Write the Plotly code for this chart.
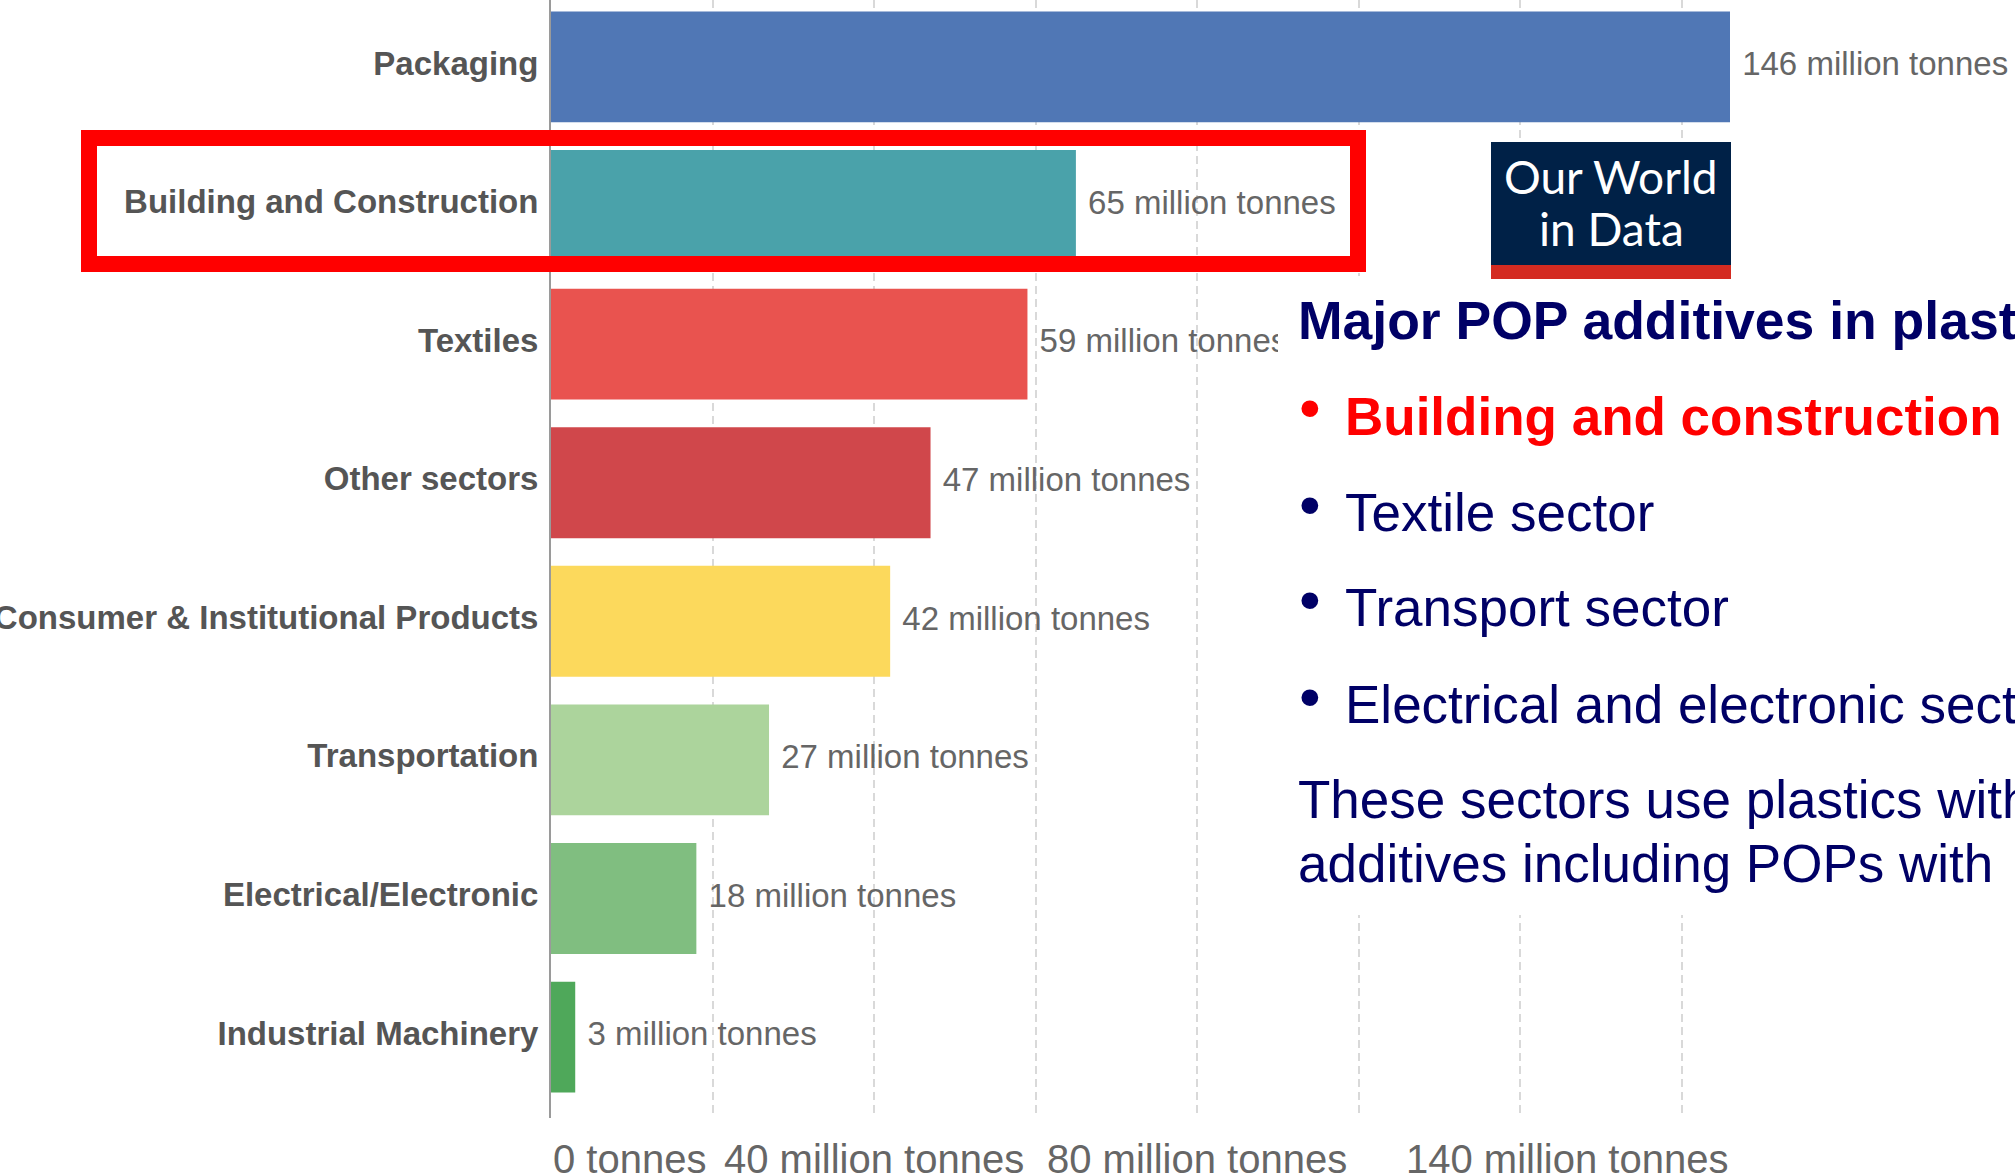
import plotly.graph_objects as go

# Plastic production by industrial sector (million tonnes)
sectors = [
    "Packaging",
    "Building and Construction",
    "Textiles",
    "Other sectors",
    "Consumer & Institutional Products",
    "Transportation",
    "Electrical/Electronic",
    "Industrial Machinery",
]
production_mt = [146, 65, 59, 47, 42, 27, 18, 3]
bar_colors = ["#5077B5", "#4AA2AA", "#E9534F", "#D0474B",
              "#FCD95C", "#ACD49C", "#80BE80", "#4FA85A"]

grid_vals = [20, 40, 60, 80, 100, 120, 140]
axis_tick_vals = [0, 40, 80, 140]
axis_tick_text = ["0 tonnes", "40 million tonnes", "80 million tonnes", "140 million tonnes"]

heading = "Major POP additives in plastics"
bullet_items = ["Building and construction sector", "Textile sector",
                "Transport sector", "Electrical and electronic sector"]
closing_lines = ["These sectors use plastics with", "additives including POPs with"]

# page geometry (pixels)
FIG_W, FIG_H = 2015, 1176
L, R, T, B = 551, 1730, 0, 1118
PW, PH = R - L, B - T


def fx(px):
    return (px - L) / PW


def fy(py):
    return 1 - (py - T) / PH


SANS = "Liberation Sans, Arial, sans-serif"
NAVY = "#000066"

fig = go.Figure()
fig.add_trace(
    go.Bar(
        x=production_mt,
        y=sectors,
        orientation="h",
        marker=dict(color=bar_colors, line=dict(width=0)),
        hoverinfo="skip",
    )
)
# value labels just past the end of each bar (invisible anchor markers)
fig.add_trace(
    go.Scatter(
        x=production_mt,
        y=sectors,
        mode="markers+text",
        marker=dict(size=3.2, color="rgba(0,0,0,0)"),
        texttemplate="\u00a0%{x} million tonnes",
        textposition="middle right",
        cliponaxis=False,
        textfont=dict(family=SANS, size=33, color="#666666"),
        hoverinfo="skip",
    )
)

fig.update_layout(
    width=FIG_W,
    height=FIG_H,
    margin=dict(l=L, r=FIG_W - R, t=T, b=FIG_H - B, pad=0),
    paper_bgcolor="white",
    plot_bgcolor="white",
    bargap=0.2,
    showlegend=False,
)

fig.update_xaxes(
    range=[0, 146],
    tickvals=grid_vals,
    showticklabels=False,
    showgrid=True,
    gridcolor="#d9d9d9",
    gridwidth=2,
    griddash="8px,5px",
    zeroline=False,
    showline=False,
    ticks="",
)

fig.update_yaxes(
    categoryorder="array",
    categoryarray=sectors,
    range=[7.584, -0.483],
    showgrid=False,
    zeroline=False,
    showline=True,
    linecolor="#9a9a9a",
    linewidth=2,
    ticks="",
    ticklabelstandoff=4,
    ticklabelshift=4,
    automargin=False,
    tickfont=dict(family=SANS, size=33, color="#555555", weight="bold"),
)

# x-axis labels: first pinned left, last pinned to the right edge
for i, (val, txt) in enumerate(zip(axis_tick_vals, axis_tick_text)):
    if i == 0:
        pos = dict(xref="paper", x=0, xanchor="left")
    elif i == len(axis_tick_vals) - 1:
        pos = dict(xref="paper", x=1, xanchor="right")
    else:
        pos = dict(xref="x", x=val, xanchor="center")
    fig.add_annotation(text=txt, yref="paper", y=0, yanchor="middle", yshift=-41,
                       showarrow=False, font=dict(family=SANS, size=40, color="#666666"),
                       **pos)

# highlight frame round the building & construction row
fig.add_shape(type="rect", xref="paper", yref="paper",
              x0=fx(89), x1=fx(1358), y0=fy(138), y1=fy(264),
              line=dict(color="#FF0000", width=16), fillcolor="rgba(0,0,0,0)", layer="above")

# text panel background
fig.add_shape(type="rect", xref="paper", yref="paper",
              x0=fx(1278), x1=fx(2030), y0=fy(276), y1=fy(915),
              line=dict(width=0), fillcolor="white", layer="above")

# Our World in Data badge
fig.add_shape(type="rect", xref="paper", yref="paper",
              x0=fx(1491), x1=fx(1731), y0=fy(142), y1=fy(266),
              line=dict(width=0), fillcolor="#002147", layer="above")
fig.add_shape(type="rect", xref="paper", yref="paper",
              x0=fx(1491), x1=fx(1731), y0=fy(265), y1=fy(279),
              line=dict(width=0), fillcolor="#D42B21", layer="above")
for txt, cy in [("Our World", 177), ("in Data", 229)]:
    fig.add_annotation(text=txt, xref="paper", yref="paper", x=fx(1611), y=fy(cy),
                       xanchor="center", yanchor="middle", showarrow=False,
                       font=dict(family="Lato, sans-serif", size=46, color="white"))

# side notes
TXT = 53


def mid(baseline, size=TXT):
    return baseline - 0.3465 * size


fig.add_annotation(text=heading, xref="paper", yref="paper", x=fx(1296), y=fy(mid(339, 53.5)),
                   xanchor="left", yanchor="middle", showarrow=False,
                   font=dict(family=SANS, size=53.5, color=NAVY, weight="bold"))

for i, (item, base) in enumerate(zip(bullet_items, [435, 531, 626, 723])):
    first = i == 0
    color = "#FF0000" if first else NAVY
    fig.add_annotation(text="\u2022", xref="paper", yref="paper", x=fx(1297), y=fy(base - 27),
                       xanchor="left", yanchor="middle", showarrow=False,
                       font=dict(family=SANS, size=62, color=color))
    fig.add_annotation(text=item, xref="paper", yref="paper", x=fx(1343), y=fy(mid(base)),
                       xanchor="left", yanchor="middle", showarrow=False,
                       font=dict(family=SANS, size=TXT, color=color,
                                 weight="bold" if first else "normal"))

for line, base in zip(closing_lines, [818, 882]):
    fig.add_annotation(text=line, xref="paper", yref="paper", x=fx(1296), y=fy(mid(base)),
                       xanchor="left", yanchor="middle", showarrow=False,
                       font=dict(family=SANS, size=TXT, color=NAVY))

fig.write_html("out.html", config={"displayModeBar": False})
